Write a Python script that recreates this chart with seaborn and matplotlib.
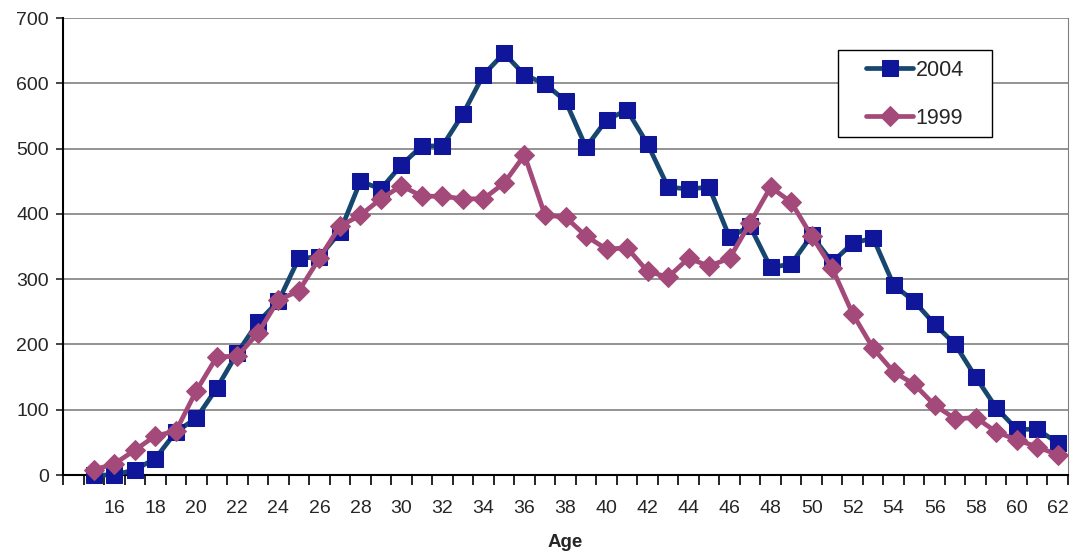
import numpy as np
import pandas as pd
import matplotlib
matplotlib.use("Agg")
import matplotlib.pyplot as plt
from matplotlib.patches import Rectangle
import seaborn as sns

ages = list(range(15, 63))
y2004 = [0, 0, 8, 25, 66, 87, 133, 187, 234, 266, 332, 334, 372, 450, 438, 475,
         504, 504, 553, 613, 646, 613, 599, 573, 502, 544, 559, 507, 441, 438, 441,
         364, 381, 318, 323, 367, 326, 355, 363, 291, 266, 231, 200, 150, 103, 70,
         70, 49]
y1999 = [8, 17, 38, 60, 67, 129, 181, 182, 217, 268, 282, 332, 381, 398, 423, 443,
         427, 427, 423, 423, 447, 490, 398, 395, 366, 346, 348, 312, 303, 332, 320,
         332, 386, 441, 418, 366, 317, 247, 194, 158, 139, 107, 86, 88, 66, 54,
         43, 31]
tick_labels = list(range(16, 63, 2))

df = pd.DataFrame({"Age": ages, "2004": y2004, "1999": y1999})

sns.set_style("white")
plt.rcParams['font.family'] = ['Liberation Sans', 'DejaVu Sans']

W, H = 1077, 556
fig = plt.figure(figsize=(10.77, 5.56), dpi=100)
ax = fig.add_axes([63 / W, 1 - 475 / H, (1068 - 63) / W, (475 - 18) / H])

sns.lineplot(data=df, x="Age", y="2004", ax=ax, color="#17476F", linewidth=3.4,
             marker="s", markersize=11, markerfacecolor="#10169A",
             markeredgecolor="#10169A", label="2004", clip_on=False, zorder=3)
sns.lineplot(data=df, x="Age", y="1999", ax=ax, color="#A44A7A", linewidth=3.4,
             marker="D", markersize=10, markerfacecolor="#A44A7A",
             markeredgecolor="#A44A7A", label="1999", clip_on=False, zorder=4)

ax.set_xlim(13.5, 62.5)
ax.set_ylim(0, 700)
ax.set_yticks(range(0, 701, 100))
ax.yaxis.grid(True, color="#808080", linewidth=1.2)
ax.set_axisbelow(True)

# category boundaries carry tick marks, labels sit under every other category
ax.set_xticks(np.arange(13.5, 63, 1))
ax.set_xticklabels([])
ax.tick_params(axis="x", which="major", direction="out", length=7, width=1.2,
               color="#000000", bottom=True)
ax.set_xticks(tick_labels, minor=True)
ax.set_xticklabels([str(t) for t in tick_labels], minor=True, fontsize=14)
ax.tick_params(axis="x", which="minor", length=0, pad=18)
ax.tick_params(axis="y", direction="out", length=5, width=1.2, left=True,
               labelsize=14, pad=5)

for s in ["left", "bottom"]:
    ax.spines[s].set_color("#000000")
    ax.spines[s].set_linewidth(1.5)
ax.spines["right"].set_color("#808080")
ax.spines["top"].set_visible(False)

ax.set_xlabel("Age", fontsize=13.5, fontweight="bold", labelpad=12)
ax.set_ylabel("")

# legend box drawn by hand so its padding can match the original
box = Rectangle((838 / W, 1 - 137 / H), 154 / W, 87 / H, transform=fig.transFigure,
                facecolor="white", edgecolor="#000000", linewidth=1.0, zorder=4.9)
ax.add_patch(box)
leg = ax.legend(loc="upper left", bbox_to_anchor=(866 / W, 1 - 60 / H),
                bbox_transform=fig.transFigure, frameon=False, fontsize=15.5,
                handlelength=2.2, borderpad=0, labelspacing=1.25,
                handletextpad=0.1, borderaxespad=0)
leg.set_zorder(5)

fig.savefig("out.png", dpi=100)
